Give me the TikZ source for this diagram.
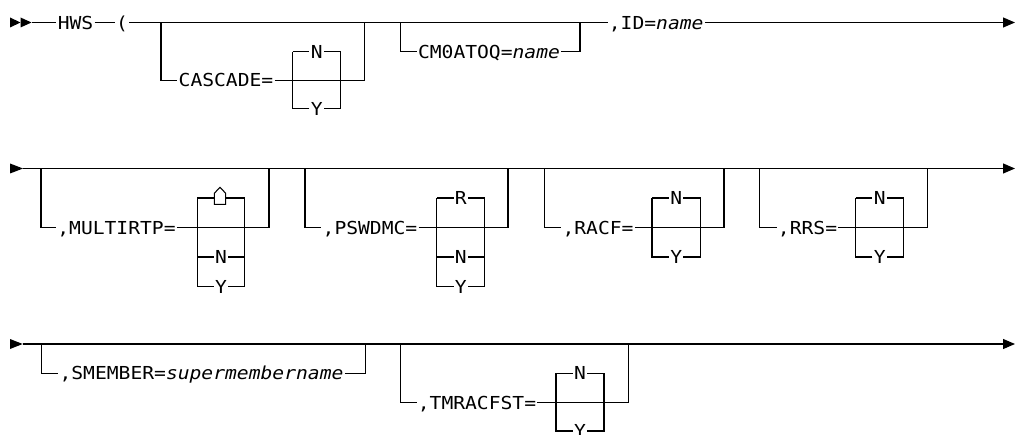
\documentclass[tikz,border=0pt]{standalone}
\usepackage{fontspec}
\setmonofont[FakeStretch=1.1]{DejaVu Sans Mono}
\usetikzlibrary{arrows.meta}
\begin{document}
\begin{tikzpicture}[x=0.75pt,y=-0.75pt,
  rail/.style={line width=0.8pt,line cap=butt,line join=miter},
  txt/.style={inner xsep=0.8pt,inner ysep=0pt,text height=9.8pt,text depth=0pt,
              font=\ttfamily\fontsize{13.4}{14}\selectfont},
  endarrow/.style={rail,-{Triangle[length=9pt,width=7.5pt]}},
  starttip/.style={fill=black}]
\useasboundingbox (0,0) rectangle (1015,435);

%% ---------------- Row 1 ----------------
\fill[starttip] (10,17.5) -- (20.5,22.5) -- (10,27.5) -- cycle;
\fill[starttip] (20.5,17.5) -- (31.5,22.5) -- (20.5,27.5) -- cycle;
\coordinate (s1) at (31.5,22.5);
\coordinate (e1) at (1015,22.5);
\node[txt] (hws) at (75.5,22.5) {HWS};
\node[txt] (lpar) at (122,22.5) {(};
\node[txt] (idt) at (656.2,22.5) {,ID=\textit{name}};
\draw[rail] (s1) -- (hws.west);
\draw[rail] (hws.east) -- (lpar.west);
\draw[rail] (lpar.east) -- (idt.west);
\draw[endarrow] (idt.east) -- (e1);

% CASCADE
\coordinate (A1) at (161,22.5);
\coordinate (A2) at (364.3,22.5);
\coordinate (A3) at (161,80.3);
\coordinate (A4) at (364.3,80.3);
\node[txt] (cas) at (226,80.3) {CASCADE=};
\draw[rail] (A1) -- (A3) -- (cas.west);
\draw[rail] (cas.east) -- (A4) -- (A2);
\coordinate (B1) at (292.7,51.7);
\coordinate (B2) at (340.7,51.7);
\coordinate (B3) at (292.7,108.5);
\coordinate (B4) at (340.7,108.5);
\node[txt] (casN) at (316.7,51.7) {N};
\node[txt] (casY) at (316.7,108.5) {Y};
\draw[rail] (B1) -- (casN.west);
\draw[rail] (casN.east) -- (B2) -- (B4) -- (casY.east);
\draw[rail] (casY.west) -- (B3) -- (B1);

% CM0ATOQ
\coordinate (C1) at (400.7,22.5);
\coordinate (C2) at (580,22.5);
\coordinate (C3) at (400.7,51.7);
\coordinate (C4) at (580,51.7);
\node[txt] (cmq) at (489,51.7) {CM0ATOQ=\textit{name}};
\draw[rail] (C1) -- (C3) -- (cmq.west);
\draw[rail] (cmq.east) -- (C4) -- (C2);

%% ---------------- Row 2 ----------------
\fill[starttip] (10,163.5) -- (23,168.5) -- (10,173.5) -- cycle;
\coordinate (s2) at (23,168.5);
\coordinate (e2) at (1015,168.5);
\draw[endarrow] (s2) -- (e2);

% MULTIRTP
\coordinate (D1) at (41,168.5);
\coordinate (D2) at (269,168.5);
\coordinate (D3) at (41,227.5);
\coordinate (D4) at (269,227.5);
\node[txt] (mul) at (116.5,227.5) {,MULTIRTP=};
\draw[rail] (D1) -- (D3) -- (mul.west);
\draw[rail] (mul.east) -- (D4) -- (D2);
\coordinate (E1) at (197.3,198);
\coordinate (E2) at (244.5,198);
\coordinate (E3) at (197.3,286.5);
\coordinate (E4) at (244.5,286.5);
\coordinate (H1) at (214.3,198);
\coordinate (H2) at (225.7,198);
\node[txt] (mulN) at (221,257) {N};
\node[txt] (mulY) at (221,286.5) {Y};
\draw[rail] (E1) -- (H1);
\draw[rail] (H2) -- (E2) -- (E4) -- (mulY.east);
\draw[rail] (mulY.west) -- (E3) -- (E1);
\draw[rail] (214.3,204.3) -- (225.7,204.3) -- (225.7,193.3) -- (220,187.3) -- (214.3,193.3) -- cycle;
\draw[rail] (E1 |- mulN) -- (mulN.west);
\draw[rail] (mulN.east) -- (E2 |- mulN);

% PSWDMC
\coordinate (F1) at (305,168.5);
\coordinate (F2) at (508,168.5);
\coordinate (F3) at (305,227.5);
\coordinate (F4) at (508,227.5);
\node[txt] (psw) at (370,227.5) {,PSWDMC=};
\draw[rail] (F1) -- (F3) -- (psw.west);
\draw[rail] (psw.east) -- (F4) -- (F2);
\coordinate (G1) at (436.8,198);
\coordinate (G2) at (484.8,198);
\coordinate (G3) at (436.8,286.5);
\coordinate (G4) at (484.8,286.5);
\node[txt] (pswR) at (460.8,198) {R};
\node[txt] (pswN) at (460.8,257) {N};
\node[txt] (pswY) at (460.8,286.5) {Y};
\draw[rail] (G1) -- (pswR.west);
\draw[rail] (pswR.east) -- (G2) -- (G4) -- (pswY.east);
\draw[rail] (pswY.west) -- (G3) -- (G1);
\draw[rail] (G1 |- pswN) -- (pswN.west);
\draw[rail] (pswN.east) -- (G2 |- pswN);

% RACF
\coordinate (J1) at (544.3,168.5);
\coordinate (J2) at (724,168.5);
\coordinate (J3) at (544.3,227.5);
\coordinate (J4) at (724,227.5);
\node[txt] (rac) at (598,227.5) {,RACF=};
\draw[rail] (J1) -- (J3) -- (rac.west);
\draw[rail] (rac.east) -- (J4) -- (J2);
\coordinate (K1) at (652,198);
\coordinate (K2) at (700.3,198);
\coordinate (K3) at (652,257);
\coordinate (K4) at (700.3,257);
\node[txt] (racN) at (676.2,198) {N};
\node[txt] (racY) at (676.2,257) {Y};
\draw[rail] (K1) -- (racN.west);
\draw[rail] (racN.east) -- (K2) -- (K4) -- (racY.east);
\draw[rail] (racY.west) -- (K3) -- (K1);

% RRS
\coordinate (L1) at (759.3,168.5);
\coordinate (L2) at (927.3,168.5);
\coordinate (L3) at (759.3,227.5);
\coordinate (L4) at (927.3,227.5);
\node[txt] (rrs) at (807.5,227.5) {,RRS=};
\draw[rail] (L1) -- (L3) -- (rrs.west);
\draw[rail] (rrs.east) -- (L4) -- (L2);
\coordinate (M1) at (855.7,198);
\coordinate (M2) at (903.7,198);
\coordinate (M3) at (855.7,257);
\coordinate (M4) at (903.7,257);
\node[txt] (rrsN) at (879.7,198) {N};
\node[txt] (rrsY) at (879.7,257) {Y};
\draw[rail] (M1) -- (rrsN.west);
\draw[rail] (rrsN.east) -- (M2) -- (M4) -- (rrsY.east);
\draw[rail] (rrsY.west) -- (M3) -- (M1);

%% ---------------- Row 3 ----------------
\fill[starttip] (10,339) -- (22.7,344) -- (10,349) -- cycle;
\coordinate (s3) at (22.7,344);
\coordinate (e3) at (1015,344);
\draw[endarrow] (s3) -- (e3);

% SMEMBER
\coordinate (P1) at (41.7,344);
\coordinate (P2) at (365.7,344);
\coordinate (P3) at (41.7,373.3);
\coordinate (P4) at (365.7,373.3);
\node[txt] (smb) at (201.5,373.3) {,SMEMBER=\textit{supermembername}};
\draw[rail] (P1) -- (P3) -- (smb.west);
\draw[rail] (smb.east) -- (P4) -- (P2);

% TMRACFST
\coordinate (Q1) at (400.7,344);
\coordinate (Q2) at (628.3,344);
\coordinate (Q3) at (400.7,402.6);
\coordinate (Q4) at (628.3,402.6);
\node[txt] (tmr) at (477,402.6) {,TMRACFST=};
\draw[rail] (Q1) -- (Q3) -- (tmr.west);
\draw[rail] (tmr.east) -- (Q4) -- (Q2);
\coordinate (U1) at (556,373.3);
\coordinate (U2) at (604,373.3);
\coordinate (U3) at (556,431);
\coordinate (U4) at (604,431);
\node[txt] (tmrN) at (580,373.3) {N};
\node[txt] (tmrY) at (580,431) {Y};
\draw[rail] (U1) -- (tmrN.west);
\draw[rail] (tmrN.east) -- (U2) -- (U4) -- (tmrY.east);
\draw[rail] (tmrY.west) -- (U3) -- (U1);
\end{tikzpicture}
\end{document}
